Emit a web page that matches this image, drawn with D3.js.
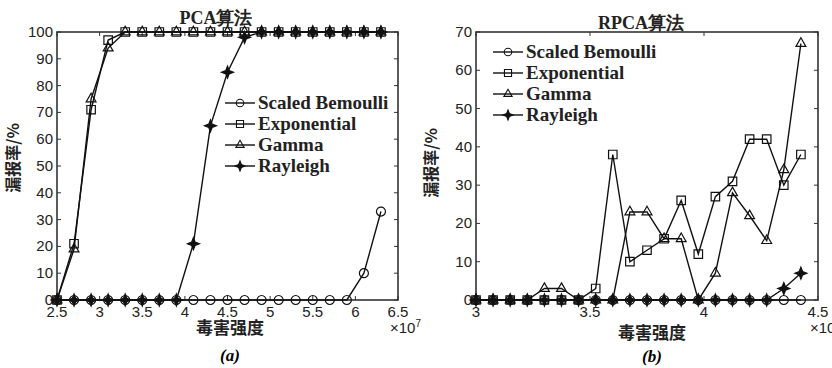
<!DOCTYPE html>
<html>
<head>
<meta charset="utf-8">
<script src="https://cdn.jsdelivr.net/npm/d3@7"></script>
<style>
  body { margin: 0; background: #fff; }
  svg { display: block; }
  .tick-label { font-family: "Liberation Sans", Arial, sans-serif; font-size: 15px; fill: #222; }
  .legend-text, .title { font-family: "Liberation Serif", "Times New Roman", serif; font-weight: bold; fill: #222; }
  .cjk { font-family: "Noto Sans CJK SC", sans-serif; fill: #222; }
</style>
</head>
<body>
<div id="chart"></div>
<script>
// Data
const seriesNames = ["Scaled Bemoulli", "Exponential", "Gamma", "Rayleigh"];

const pcaX = [2.5, 2.7, 2.9, 3.1, 3.3, 3.5, 3.7, 3.9, 4.1, 4.3, 4.5, 4.7, 4.9, 5.1, 5.3, 5.5, 5.7, 5.9, 6.1, 6.3];
const pcaBernoulli = [0, 0, 0, 0, 0, 0, 0, 0, 0, 0, 0, 0, 0, 0, 0, 0, 0, 0, 10, 33];
const pcaExponential = [0, 21, 71, 97, 100, 100, 100, 100, 100, 100, 100, 100, 100, 100, 100, 100, 100, 100, 100, 100];
const pcaGamma = [0, 19, 75, 94, 100, 100, 100, 100, 100, 100, 100, 100, 100, 100, 100, 100, 100, 100, 100, 100];
const pcaRayleigh = [0, 0, 0, 0, 0, 0, 0, 0, 21, 65, 85, 98, 100, 100, 100, 100, 100, 100, 100, 100];
const pcaXTicks = [2.5, 3, 3.5, 4, 4.5, 5, 5.5, 6, 6.5];
const pcaYTicks = [0, 10, 20, 30, 40, 50, 60, 70, 80, 90, 100];

const rpcaX = [3, 3.075, 3.15, 3.225, 3.3, 3.375, 3.45, 3.525, 3.6, 3.675, 3.75, 3.825, 3.9, 3.975, 4.05, 4.125, 4.2, 4.275, 4.35, 4.425];
const rpcaBernoulli = [0, 0, 0, 0, 0, 0, 0, 0, 0, 0, 0, 0, 0, 0, 0, 0, 0, 0, 0, 0];
const rpcaExponential = [0, 0, 0, 0, 0, 0, 0, 3, 38, 10, 13, 16, 26, 12, 27, 31, 42, 42, 30, 38];
const rpcaGamma = [0, 0, 0, 0, 3, 3, 0, 0, 0, 23, 23, 16, 16, 0, 7, 28, 22, 15.5, 34, 67];
const rpcaRayleigh = [0, 0, 0, 0, 0, 0, 0, 0, 0, 0, 0, 0, 0, 0, 0, 0, 0, 0, 3, 7];
const rpcaXTicks = [3, 3.5, 4, 4.5];
const rpcaYTicks = [0, 10, 20, 30, 40, 50, 60, 70];

// Markers
const star4 = {
  draw(ctx, size) {
    const R = Math.sqrt(size) * 0.75, r = R * 0.4;
    for (let i = 0; i < 8; i++) {
      const a = (Math.PI / 4) * i - Math.PI / 2;
      const rad = i % 2 === 0 ? R : r;
      const px = rad * Math.cos(a), py = rad * Math.sin(a);
      if (i === 0) ctx.moveTo(px, py); else ctx.lineTo(px, py);
    }
    ctx.closePath();
  },
};
const markers = [
  { type: d3.symbolCircle, size: 64, fill: "none" },
  { type: d3.symbolSquare, size: 72, fill: "none" },
  { type: d3.symbolTriangle, size: 42, fill: "none" },
  { type: star4, size: 64, fill: "#111" },
];

const svg = d3
  .select("#chart")
  .append("svg")
  .attr("width", 832)
  .attr("height", 368);

function panel(cfg) {
  const xScale = d3.scaleLinear().domain(cfg.xDomain).range([cfg.left, cfg.right]);
  const yScale = d3.scaleLinear().domain(cfg.yDomain).range([cfg.bottom, cfg.top]);
  const g = svg.append("g");

  // Box
  g.append("rect")
    .attr("x", cfg.left)
    .attr("y", cfg.top)
    .attr("width", cfg.right - cfg.left)
    .attr("height", cfg.bottom - cfg.top)
    .attr("fill", "none")
    .attr("stroke", "#333")
    .attr("stroke-width", 1.6);

  // Inward ticks on all sides
  const tk = 4;
  g.append("g")
    .selectAll("line")
    .data(cfg.xTicks)
    .join("line")
    .attr("x1", (d) => xScale(d))
    .attr("x2", (d) => xScale(d))
    .attr("y1", cfg.bottom)
    .attr("y2", cfg.bottom - tk)
    .attr("stroke", "#333");
  g.append("g")
    .selectAll("line")
    .data(cfg.xTicks)
    .join("line")
    .attr("x1", (d) => xScale(d))
    .attr("x2", (d) => xScale(d))
    .attr("y1", cfg.top)
    .attr("y2", cfg.top + tk)
    .attr("stroke", "#333");
  g.append("g")
    .selectAll("line")
    .data(cfg.yTicks)
    .join("line")
    .attr("x1", cfg.left)
    .attr("x2", cfg.left + tk)
    .attr("y1", (d) => yScale(d))
    .attr("y2", (d) => yScale(d))
    .attr("stroke", "#333");
  g.append("g")
    .selectAll("line")
    .data(cfg.yTicks)
    .join("line")
    .attr("x1", cfg.right)
    .attr("x2", cfg.right - tk)
    .attr("y1", (d) => yScale(d))
    .attr("y2", (d) => yScale(d))
    .attr("stroke", "#333");

  // Tick labels
  g.append("g")
    .selectAll("text")
    .data(cfg.xTicks)
    .join("text")
    .classed("tick-label", true)
    .attr("x", (d) => xScale(d))
    .attr("y", cfg.bottom + 17)
    .attr("text-anchor", "middle")
    .text((d) => d);
  g.append("g")
    .selectAll("text")
    .data(cfg.yTicks)
    .join("text")
    .classed("tick-label", true)
    .attr("x", cfg.left - 4)
    .attr("y", (d) => yScale(d) + 5)
    .attr("text-anchor", "end")
    .text((d) => d);

  // Exponent
  const ex = g.append("text").classed("tick-label", true)
    .attr("x", cfg.right - 8)
    .attr("y", cfg.bottom + 33);
  ex.append("tspan").text("×10");
  ex.append("tspan").attr("dy", -6).style("font-size", "10px").text("7");

  // Title and axis labels
  g.append("text")
    .classed("title", true)
    .attr("x", cfg.titleX)
    .attr("y", cfg.titleY)
    .attr("text-anchor", "middle")
    .style("font-size", "18px")
    .text(cfg.title);
  g.append("text")
    .classed("cjk", true)
    .attr("x", cfg.xLabelX)
    .attr("y", cfg.xLabelY)
    .attr("text-anchor", "middle")
    .style("font-size", "17px")
    .style("font-weight", "bold")
    .text("毒害强度");
  g.append("text")
    .classed("cjk", true)
    .attr("transform", `translate(${cfg.yLabelX},${cfg.yLabelY}) rotate(-90)`)
    .attr("text-anchor", "middle")
    .style("font-size", "16px")
    .style("font-weight", "bold")
    .text("漏报率/%");
  g.append("text")
    .attr("x", cfg.xLabelX)
    .attr("y", cfg.captionY)
    .attr("text-anchor", "middle")
    .style("font-family", "Liberation Serif, serif")
    .style("font-style", "italic")
    .style("font-weight", "bold")
    .style("font-size", "17px")
    .text(cfg.caption);

  // Series
  const line = d3.line().x((d) => xScale(d[0])).y((d) => yScale(d[1]));
  cfg.series.forEach((vals, i) => {
    const pts = cfg.x.map((x, j) => [x, vals[j]]);
    g.append("path")
      .attr("d", line(pts))
      .attr("fill", "none")
      .attr("stroke", "#111")
      .attr("stroke-width", 1.4);
    g.append("g")
      .selectAll("path")
      .data(pts)
      .join("path")
      .attr("transform", (d) => `translate(${xScale(d[0])},${yScale(d[1])})`)
      .attr("d", d3.symbol(markers[i].type, markers[i].size))
      .attr("fill", markers[i].fill)
      .attr("stroke", "#111")
      .attr("stroke-width", 1.2);
  });

  // Legend
  const lg = g.append("g");
  seriesNames.forEach((name, i) => {
    const y = cfg.legendY + i * 21;
    lg.append("line")
      .attr("x1", cfg.legendX)
      .attr("x2", cfg.legendX + 30)
      .attr("y1", y)
      .attr("y2", y)
      .attr("stroke", "#111")
      .attr("stroke-width", 1.4);
    lg.append("path")
      .attr("transform", `translate(${cfg.legendX + 15},${y})`)
      .attr("d", d3.symbol(markers[i].type, markers[i].size * 0.7))
      .attr("fill", markers[i].fill)
      .attr("stroke", "#111")
      .attr("stroke-width", 1.1);
    lg.append("text")
      .classed("legend-text", true)
      .attr("x", cfg.legendX + 33)
      .attr("y", y + 6)
      .style("font-size", "19px")
      .text(name);
  });
}

panel({
  x: pcaX,
  series: [pcaBernoulli, pcaExponential, pcaGamma, pcaRayleigh],
  xDomain: [2.5, 6.5],
  yDomain: [0, 100],
  xTicks: pcaXTicks,
  yTicks: pcaYTicks,
  left: 57, right: 398, top: 32, bottom: 300,
  title: "PCA算法", titleX: 216, titleY: 24,
  xLabelX: 230, xLabelY: 334, captionY: 361, caption: "(a)",
  yLabelX: 19, yLabelY: 158,
  legendX: 225, legendY: 103,
});

panel({
  x: rpcaX,
  series: [rpcaBernoulli, rpcaExponential, rpcaGamma, rpcaRayleigh],
  xDomain: [3, 4.5],
  yDomain: [0, 70],
  xTicks: rpcaXTicks,
  yTicks: rpcaYTicks,
  left: 476, right: 818, top: 32, bottom: 300,
  title: "RPCA算法", titleX: 641, titleY: 29,
  xLabelX: 652, xLabelY: 339, captionY: 362, caption: "(b)",
  yLabelX: 437, yLabelY: 163,
  legendX: 493, legendY: 52,
});
</script>
</body>
</html>
